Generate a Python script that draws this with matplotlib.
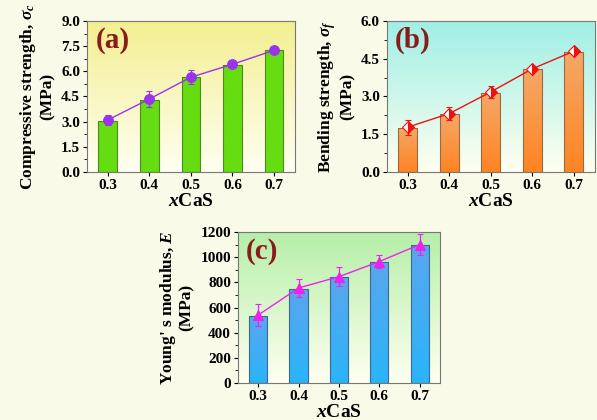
import numpy as np
import matplotlib
matplotlib.use('Agg')
import matplotlib.pyplot as plt
from matplotlib.colors import LinearSegmentedColormap

plt.rcParams['font.family'] = 'Liberation Serif'
plt.rcParams['font.weight'] = 'bold'
plt.rcParams['axes.labelweight'] = 'bold'
plt.rcParams['mathtext.fontset'] = 'custom'
plt.rcParams['mathtext.rm'] = 'Liberation Serif:bold'
plt.rcParams['mathtext.it'] = 'Liberation Serif:italic'
plt.rcParams['mathtext.bf'] = 'Liberation Serif:bold'

x = [0.3, 0.4, 0.5, 0.6, 0.7]
xticklabels = ['0.3', '0.4', '0.5', '0.6', '0.7']

# (a) compressive strength
comp_bar = [3.05, 4.3, 5.65, 6.4, 7.25]
comp_pt = [3.1, 4.35, 5.65, 6.42, 7.25]
comp_err = [0.3, 0.45, 0.4, 0.1, 0.1]

# (b) bending strength
bend_bar = [1.75, 2.3, 3.15, 4.08, 4.78]
bend_pt = [1.78, 2.32, 3.18, 4.1, 4.8]
bend_err = [0.3, 0.25, 0.22, 0.1, 0.08]

# (c) Young's modulus
young_bar = [535, 750, 840, 965, 1100]
young_pt = [540, 755, 845, 965, 1100]
young_err = [90, 75, 75, 55, 85]

fig_bg = '#FAFAE8'
fig = plt.figure(figsize=(5.97, 4.2), dpi=100, facecolor=fig_bg)


def grad_bg(ax, top, bottom):
    cmap = LinearSegmentedColormap.from_list('bg', [bottom, top])
    g = np.linspace(0, 1, 256).reshape(-1, 1)
    ax.imshow(g, cmap=cmap, aspect='auto', extent=[0, 1, 0, 1],
              transform=ax.transAxes, origin='lower', zorder=0)


def grad_bars(ax, bars, top, bottom, edge):
    cmap = LinearSegmentedColormap.from_list('bar', [bottom, top])
    g = np.linspace(0, 1, 256).reshape(-1, 1)
    for b in bars:
        bx, by = b.get_x(), b.get_y()
        w, h = b.get_width(), b.get_height()
        im = ax.imshow(g, cmap=cmap, aspect='auto', origin='lower',
                       extent=[bx, bx + w, by, by + h], zorder=2)
        im.set_clip_path(b)
        b.set_facecolor('none')
        b.set_edgecolor(edge)
        b.set_zorder(3)


def panel(rect, bars, pts, errs, ylim, yticks, yfmt, ylabel, tag,
          bgtop, bgbot, bartop, barbot, baredge, lcol, marker, ms, mfc, mfalt=None, fill='full'):
    ax = fig.add_axes(rect)
    grad_bg(ax, bgtop, bgbot)
    b = ax.bar(x, bars, width=0.045, linewidth=0.8)
    grad_bars(ax, b, bartop, barbot, baredge)
    ax.errorbar(x, pts, yerr=errs, color=lcol, lw=1.0, capsize=2.5,
                elinewidth=0.9, zorder=4, marker=marker, ms=ms,
                mfc=mfc, mec=lcol, mew=0.8, fillstyle=fill,
                **({'markerfacecoloralt': mfalt} if mfalt else {}))
    ax.set_xlim(0.25, 0.75)
    ax.set_ylim(*ylim)
    ax.set_xticks(x)
    ax.set_xticklabels(xticklabels, fontweight='bold', fontsize=11)
    ax.set_yticks(yticks)
    ax.set_yticklabels([yfmt.format(v) for v in yticks], fontweight='bold', fontsize=11)
    ax.set_yticks([(a + c) / 2 for a, c in zip(yticks[:-1], yticks[1:])], minor=True)
    ax.tick_params(direction='out', length=3, width=0.8, pad=2)
    ax.tick_params(which='minor', direction='out', length=2, width=0.6)
    for s in ax.spines.values():
        s.set_color('#777777')
        s.set_linewidth(0.8)
    ax.set_xlabel(r'$\mathit{x}$CaS', fontsize=14, fontweight='bold', labelpad=1)
    ax.set_ylabel(ylabel, fontsize=12.5, fontweight='bold', labelpad=4, linespacing=1.1)
    ax.text(0.04, 0.96, tag, transform=ax.transAxes, fontsize=21,
            color='#8B1A1A', fontweight='bold', va='top', ha='left', zorder=5)
    return ax


panel([0.1457, 0.5905, 0.348, 0.3595], comp_bar, comp_pt, comp_err,
      (0, 9.0), [0, 1.5, 3.0, 4.5, 6.0, 7.5, 9.0], '{:.1f}',
      'Compressive strength, $\\sigma_c$\n(MPa)', '(a)',
      '#F3EF90', '#FFFFF2', '#66DD11', '#66DD11', '#4A8A20',
      '#9933EE', 'o', 7, '#9933EE')

panel([0.648, 0.5905, 0.348, 0.3595], bend_bar, bend_pt, bend_err,
      (0, 6.0), [0, 1.5, 3.0, 4.5, 6.0], '{:.1f}',
      'Bending strength, $\\sigma_f$\n(MPa)', '(b)',
      '#9FEFE6', '#FFFFF0', '#F4A868', '#FF8422', '#9A6A40',
      '#EE1111', 'D', 6, '#EE1111', 'white', 'right')

panel([0.3987, 0.0881, 0.338, 0.3595], young_bar, young_pt, young_err,
      (0, 1200), [0, 200, 400, 600, 800, 1000, 1200], '{:d}',
      "Young' s modulus, $\\mathit{E}$\n(MPa)", '(c)',
      '#B5EFA8', '#FFFFF0', '#5AA6EE', '#2AB4FA', '#3A6A90',
      '#EE22EE', '^', 7, '#EE22EE')

fig.savefig('out.png', dpi=100, facecolor=fig_bg)
